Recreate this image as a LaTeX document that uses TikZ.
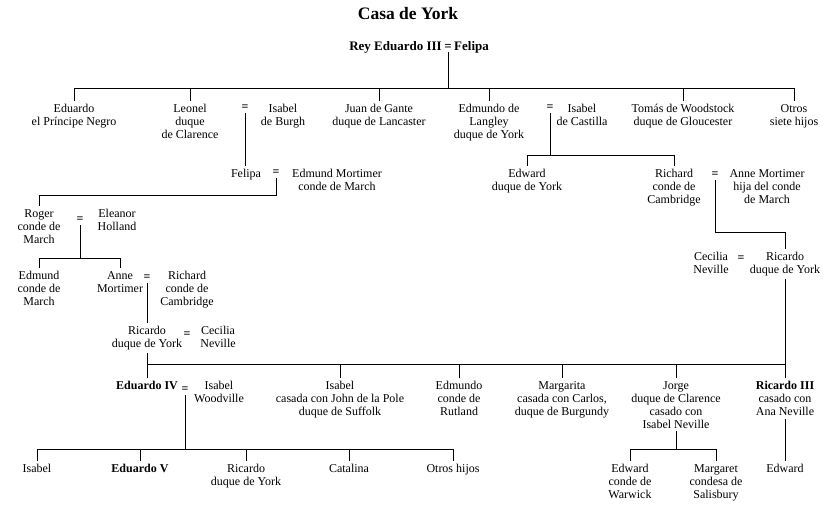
\documentclass[tikz,border=0pt]{standalone}
\usepackage{fontspec}
\setmainfont{Liberation Serif}
\usepackage{tikz}
\usetikzlibrary{positioning}
\tikzset{
  font={\fontsize{12pt}{13pt}\selectfont}}

\begin{document}
\begin{tikzpicture}[x=1pt, y=-1pt]

        \tikzset{person/.style = {align=center, anchor=north, inner sep=3pt},
                 royal/.style = {font={\fontsize{12pt}{13pt}\selectfont\bfseries}},
                 wed/.style = {inner sep=2pt, font={\fontsize{12pt}{13pt}\selectfont\bfseries}},
                 king/.style = {font={\fontsize{13pt}{15pt}\selectfont\bfseries}, inner sep=1pt},
                 line/.style = {line width=1pt}}

        \useasboundingbox (0,0) rectangle (825,506);

        % bars
        \coordinate (bA) at (0,88);
        \coordinate (bB) at (0,155);
        \coordinate (bC) at (0,195);
        \coordinate (bD) at (0,258);
        \coordinate (bE) at (0,364);
        \coordinate (bF) at (0,232);
        \coordinate (bG) at (0,449);

        % title
        \node[font={\fontsize{17.5pt}{20pt}\selectfont\bfseries}] (title) at (408,14) {Casa de York};

        % generation 0
        \node[king, anchor=east] (rey) at (443,47) {Rey Eduardo III};
        \node[king, inner sep=2pt] (eq0) at (448,47) {=};
        \node[king, anchor=west] (felipa0) at (453,47) {Felipa};

        % generation 1
        \node[person] (eduardo) at (74,101) {Eduardo\\el Príncipe Negro};
        \node[person] (leonel) at (190,101) {Leonel\\duque\\de Clarence};
        \node[wed] (eqA) at (245,108) {=};
        \node[person] (isabelB) at (283,101) {Isabel\\de Burgh};
        \node[person] (juan) at (379,101) {Juan de Gante\\duque de Lancaster};
        \node[person] (edmundoL) at (489,101) {Edmundo de\\Langley\\duque de York};
        \node[wed] (eqB) at (550,108) {=};
        \node[person] (isabelC) at (582,101) {Isabel\\de Castilla};
        \node[person] (tomas) at (683,101) {Tomás de Woodstock\\duque de Gloucester};
        \node[person] (otros) at (794,101) {Otros\\siete hijos};

        % generation 2
        \node[person] (felipa) at (246,166) {Felipa};
        \node[wed] (eqC) at (276,173) {=};
        \node[person] (mortimer) at (337,166) {Edmund Mortimer\\conde de March};
        \node[person] (edward) at (527,166) {Edward\\duque de York};
        \node[person] (richard) at (674,166) {Richard\\conde de\\Cambridge};
        \node[wed] (eqD) at (715,175) {=};
        \node[person] (anneM) at (767,166) {Anne Mortimer\\hija del conde\\de March};

        % generation 3
        \node[person] (roger) at (39,206) {Roger\\conde de\\March};
        \node[wed] (eqE) at (80,220) {=};
        \node[person] (eleanor) at (117,206) {Eleanor\\Holland};
        \node[person] (cecilia) at (711,249) {Cecilia\\Neville};
        \node[wed] (eqG) at (741,259) {=};
        \node[person] (ricardoB) at (785,249) {Ricardo\\duque de York};

        % generation 4
        \node[person] (edmundM) at (39,268) {Edmund\\conde de\\March};
        \node[person] (anne) at (120,268) {Anne\\Mortimer};
        \node[wed] (eqF) at (147,278) {=};
        \node[person] (richardC) at (187,268) {Richard\\conde de\\Cambridge};

        % generation 5
        \node[person] (ricardoA) at (147,323) {Ricardo\\duque de York};
        \node[wed] (eqH) at (187,335) {=};
        \node[person] (ceciliaB) at (218,323) {Cecilia\\Neville};

        % generation 6
        \node[person, royal] (eduardoIV) at (147,378) {Eduardo IV};
        \node[wed] (eqI) at (185,390) {=};
        \node[person] (isabelW) at (219,378) {Isabel\\Woodville};
        \node[person] (isabelS) at (340,378) {Isabel\\casada con John de la Pole\\duque de Suffolk};
        \node[person] (edmundoR) at (459,378) {Edmundo\\conde de\\Rutland};
        \node[person] (margarita) at (562,378) {Margarita\\casada con Carlos,\\duque de Burgundy};
        \node[person] (jorge) at (676,378) {Jorge\\duque de Clarence\\casado con\\Isabel Neville};
        \node[person] (ricardoIII) at (785,378) {\textbf{Ricardo III}\\casado con\\Ana Neville};

        % generation 7
        \node[person] (isabelY) at (37,461) {Isabel};
        \node[person, royal] (eduardoV) at (140,461) {Eduardo V};
        \node[person] (ricardoY) at (246,461) {Ricardo\\duque de York};
        \node[person] (catalina) at (349,461) {Catalina};
        \node[person] (otrosH) at (453,461) {Otros hijos};
        \node[person] (edwardW) at (630,461) {Edward\\conde de\\Warwick};
        \node[person] (margaret) at (716,461) {Margaret\\condesa de\\Salisbury};
        \node[person] (edwardR) at (785,461) {Edward};

        % edges
        \draw[line] (eq0.south) -- (eq0.south |- bA);
        \draw[line] (eduardo.north) -- (eduardo.north |- bA) -- (otros.north |- bA) -- (otros.north);
        \foreach \n in {leonel, juan, edmundoL, tomas}
            \draw[line] (\n.north) -- (\n.north |- bA);

        \draw[line] (eqA.south) -- (eqA.south |- felipa.north);

        \draw[line] (eqB.south) -- (eqB.south |- bB);
        \draw[line] (edward.north) -- (edward.north |- bB) -- (richard.north |- bB) -- (richard.north);

        \draw[line] (eqC.south) |- (roger.north |- bC) -- (roger.north);

        \draw[line] (eqE.south) -- (eqE.south |- bD);
        \draw[line] (edmundM.north) -- (edmundM.north |- bD) -- (anne.north |- bD) -- (anne.north);

        \draw[line] (eqD.south) |- (ricardoB.north |- bF) -- (ricardoB.north);

        \draw[line] (eqF.south) -- (eqF.south |- ricardoA.north);

        \draw[line] (ricardoA.south) -- (eduardoIV.north);
        \draw[line] (ricardoB.south) -- (ricardoIII.north);
        \draw[line] (ricardoA.south |- bE) -- (ricardoIII.north |- bE);
        \foreach \n in {isabelS, edmundoR, margarita, jorge}
            \draw[line] (\n.north) -- (\n.north |- bE);

        \draw[line] (eqI.south) -- (eqI.south |- bG);
        \draw[line] (isabelY.north) -- (isabelY.north |- bG) -- (otrosH.north |- bG) -- (otrosH.north);
        \foreach \n in {eduardoV, ricardoY, catalina}
            \draw[line] (\n.north) -- (\n.north |- bG);

        \draw[line] (jorge.south) -- (jorge.south |- bG);
        \draw[line] (edwardW.north) -- (edwardW.north |- bG) -- (margaret.north |- bG) -- (margaret.north);

        \draw[line] (ricardoIII.south) -- (edwardR.north);

\end{tikzpicture}
\end{document}
